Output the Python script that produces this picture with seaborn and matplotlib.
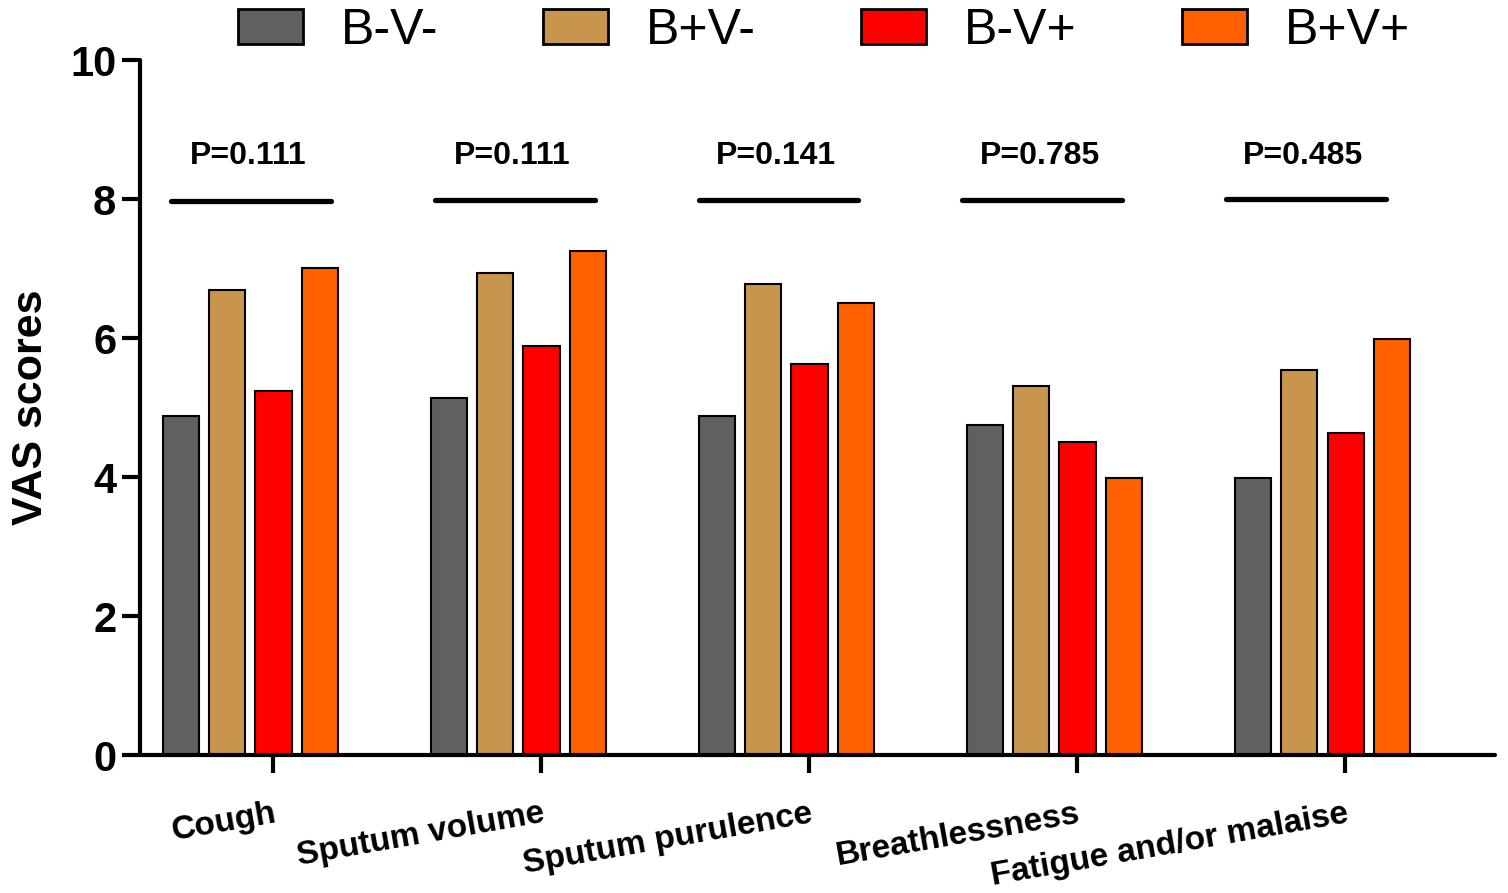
import pandas as pd
import matplotlib
matplotlib.use("Agg")
import matplotlib.pyplot as plt
import seaborn as sns

# ---------------- DATA ----------------
symptoms = ["Cough", "Sputum volume", "Sputum purulence", "Breathlessness",
            "Fatigue and/or malaise"]
groups = ["B-V-", "B+V-", "B-V+", "B+V+"]

bmvm = [4.88, 5.14, 4.88, 4.75, 3.99]
bpvm = [6.69, 6.94, 6.78, 5.31, 5.54]
bmvp = [5.24, 5.88, 5.63, 4.50, 4.63]
bpvp = [7.01, 7.25, 6.50, 3.99, 5.99]

p_labels = ["P=0.111", "P=0.111", "P=0.141", "P=0.785", "P=0.485"]
p_line_y = [7.97, 7.98, 7.98, 7.99, 8.00]

colors = ["#606060", "#c8954f", "#ff0000", "#ff6000"]

data = pd.DataFrame({
    "symptom": symptoms * 4,
    "group": [g for g in groups for _ in symptoms],
    "score": bmvm + bpvm + bmvp + bpvp,
})

# ---------------- PLOT ----------------
sns.set_style("white")
plt.rcParams["font.family"] = ["Liberation Sans", "DejaVu Sans"]
plt.rcParams["text.color"] = "black"
plt.rcParams["xtick.color"] = "black"
plt.rcParams["ytick.color"] = "black"
plt.rcParams["axes.labelcolor"] = "black"

fig = plt.figure(figsize=(15.08, 8.93), dpi=100)
ax = fig.add_axes([0.0928, 0.1545, 0.8986, 0.7783])

sns.barplot(data=data, x="symptom", y="score", hue="group", order=symptoms,
            hue_order=groups, palette=colors, saturation=1, width=0.69,
            gap=0.22, edgecolor="black", linewidth=1.5, errorbar=None, ax=ax)

ax.set_ylim(0, 10)
ax.set_xlim(-0.412, 4.644)
ax.set_yticks([0, 2, 4, 6, 8, 10])
ax.set_yticklabels(["0", "2", "4", "6", "8", "10"], fontsize=30, fontweight="bold")

# ticks sit under the third bar of each group
ax.set_xticks([i + 0.085 for i in range(len(symptoms))])
ax.set_xticklabels(symptoms, fontsize=24, fontweight="bold", rotation=10,
                   ha="right", rotation_mode="anchor")
ax.tick_params(axis="x", bottom=True, length=13, width=3, pad=18)
ax.tick_params(axis="y", left=True, length=13, width=3, pad=4)

ax.set_xlabel("")
ax.set_ylabel("VAS scores", fontsize=31, fontweight="bold", labelpad=14)

for side in ["top", "right"]:
    ax.spines[side].set_visible(False)
for side in ["left", "bottom"]:
    ax.spines[side].set_linewidth(3)
    ax.spines[side].set_color("black")
    ax.spines[side].set_capstyle("round")

# P-value lines and labels (brackets drift slightly left of the groups)
for i, (lab, ly) in enumerate(zip(p_labels, p_line_y)):
    cx = i * 0.984 + 0.003
    ax.plot([cx - 0.298, cx + 0.298], [ly, ly], color="black", lw=3.8,
            solid_capstyle="round")
    ax.text(cx - 0.01, 8.5, lab, ha="center", va="baseline", fontsize=23,
            fontweight="bold")

# legend
ax.get_legend().remove()
handles = [plt.Rectangle((0, 0), 1, 1, facecolor=c, edgecolor="black", lw=2)
           for c in colors]
fig.legend(handles, groups, loc="upper center", bbox_to_anchor=(0.5465, 1.025),
           ncol=4, frameon=False, fontsize=36, handlelength=1.3,
           handleheight=0.7, handletextpad=0.76, columnspacing=2.1,
           borderpad=0.1)

fig.savefig("out.png", dpi=100)
